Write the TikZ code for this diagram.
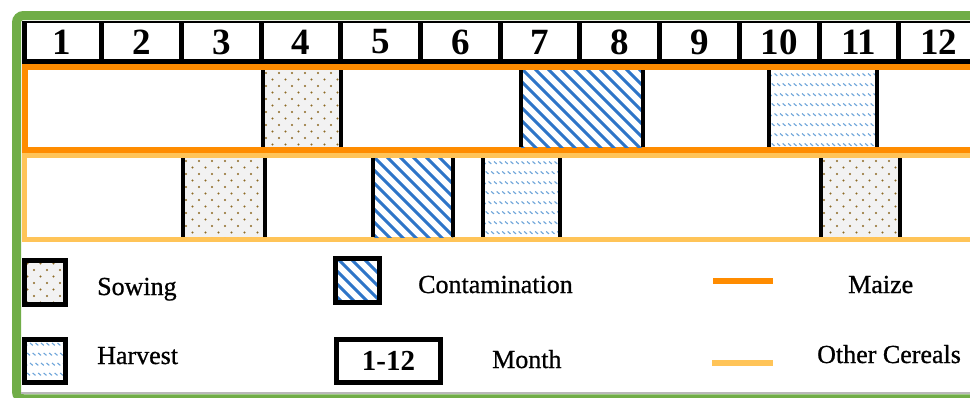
\documentclass[tikz,border=0pt]{standalone}
\usepackage{fontspec}
\setmainfont{Liberation Serif}
\newfontfamily\legfont[FakeBold=0.8]{Liberation Serif}
\definecolor{frameg}{RGB}{112,173,71}
\definecolor{maizec}{RGB}{255,140,0}
\definecolor{cerealc}{RGB}{255,196,88}
\definecolor{stripec}{RGB}{46,117,200}
\definecolor{harvc}{RGB}{110,165,218}
\definecolor{sowdotc}{RGB}{140,105,35}
\definecolor{sowbgc}{RGB}{242,242,242}
\tikzset{
  edge/.style={black,line width=4.5pt},
  monthlbl/.style={inner sep=0pt,font=\fontsize{37}{37}\selectfont\bfseries},
  leglbl/.style={inner sep=0pt,anchor=base west,font=\fontsize{26}{26}\legfont},
  legbox/.style={draw=black,line width=5pt},
  stripe/.style={stripec,line width=2.9pt},
  harvdash/.style={harvc,line width=1.1pt},
}
\newcommand\patSow[4]{%
  \begin{scope}
    \clip (#1,#2) rectangle (#3,#4);
    \fill[sowbgc] (#1,#2) rectangle (#3,#4);
    \foreach \r in {0,...,13}{\foreach \c in {0,...,10}{%
      \fill[sowdotc] ({#1+3+\c*13+mod(\r,2)*6.5},{#2+3+\r*6.5}) circle[radius=1.05pt];}}
  \end{scope}}
\newcommand\patCont[4]{%
  \begin{scope}
    \clip (#1,#2) rectangle (#3,#4);
    \fill[white] (#1,#2) rectangle (#3,#4);
    \foreach \k in {-8,...,11}{%
      \draw[stripe] ({#1+\k*13},{#2-2}) -- ++(100,100);}
  \end{scope}}
\newcommand\patHarv[4]{%
  \begin{scope}
    \clip (#1,#2) rectangle (#3,#4);
    \fill[white] (#1,#2) rectangle (#3,#4);
    \foreach \r in {0,...,8}{\foreach \c in {0,...,22}{%
      \draw[harvdash] ({#1+\c*5.5+mod(\r,2)*2.7},{#2+3.5+\r*10}) -- ++(2.8,2.4);}}
  \end{scope}}
\newcommand\barEdges[4]{%
  \draw[edge] (#1,#2) -- (#1,#4);
  \draw[edge] (#3,#2) -- (#3,#4);}
\begin{document}
\begin{tikzpicture}[x=1pt,y=-1pt]
\useasboundingbox (0,0) rectangle (970,397);
\clip (0,0) rectangle (970,397);
\fill[white] (0,0) rectangle (970,397);
% green frame
\draw[frameg,line width=9pt,rounded corners=7pt] (16.5,15.5) rectangle (1010,398.8);
\draw[gray!55,line width=2.6pt] (21,393) -- (1000,393);
% header
\fill[white] (22,21) rectangle (990,62);
\draw[black,line width=2.5pt] (22,22) -- (990,22);
\draw[black,line width=5pt] (22,61) -- (990,61);
\draw[black,line width=5pt] (24.5,21) -- (24.5,63);
\foreach \k in {1,...,11}{\draw[black,line width=5pt] ({22+79.7*\k},21) -- ({22+79.7*\k},63);}
\foreach \i in {1,...,12}{\node[monthlbl] (m\i) at ({22+79.7*(\i-0.5)},42) {\i};}
% rows
\draw[cerealc,line width=5pt] (1010,155.5) -- (24.5,155.5) -- (24.5,239.5) -- (1010,239.5);
\draw[maizec,line width=6pt] (1010,67) -- (25,67) -- (25,150) -- (1010,150);
% maize bars
\patSow{263}{70}{341}{147}\barEdges{263}{70}{341}{147}
\patCont{521}{70}{643}{147}\barEdges{521}{70}{643}{147}
\patHarv{769}{70}{877}{147}\barEdges{769}{70}{877}{147}
% other cereals bars
\patSow{183}{158}{265}{237}\barEdges{183}{158}{265}{237}
\patCont{373}{158}{453}{237}\barEdges{373}{158}{453}{237}
\patHarv{483}{158}{560}{237}\barEdges{483}{158}{560}{237}
\patSow{821}{158}{900}{237}\barEdges{821}{158}{900}{237}
% legend
\patSow{24.5}{260.5}{65.5}{304.5}
\draw[legbox] (24.5,260.5) rectangle (65.5,304.5);
\node[leglbl] (lsow) at (97,295) {Sowing};
\patCont{335.5}{258.5}{379.5}{302.5}
\draw[legbox] (335.5,258.5) rectangle (379.5,302.5);
\node[leglbl] (lcont) at (418,293) {Contamination};
\draw[maizec,line width=6pt] (713,281) -- (773,281);
\node[leglbl] (lmaize) at (848,293) {Maize};
\patHarv{24.5}{339.5}{65.5}{382.5}
\draw[legbox] (24.5,339.5) rectangle (65.5,382.5);
\node[leglbl] (lharv) at (97,364) {Harvest};
\draw[legbox] (336.5,339.5) rectangle (440.5,382.5);
\node[inner sep=0pt,font=\fontsize{29}{29}\selectfont\bfseries] (lrange) at (388.5,361) {1-12};
\node[leglbl] (lmonth) at (492,368) {Month};
\draw[cerealc,line width=6pt] (712,363) -- (773,363);
\node[leglbl] (lother) at (817,363) {Other Cereals};
\end{tikzpicture}
\end{document}
